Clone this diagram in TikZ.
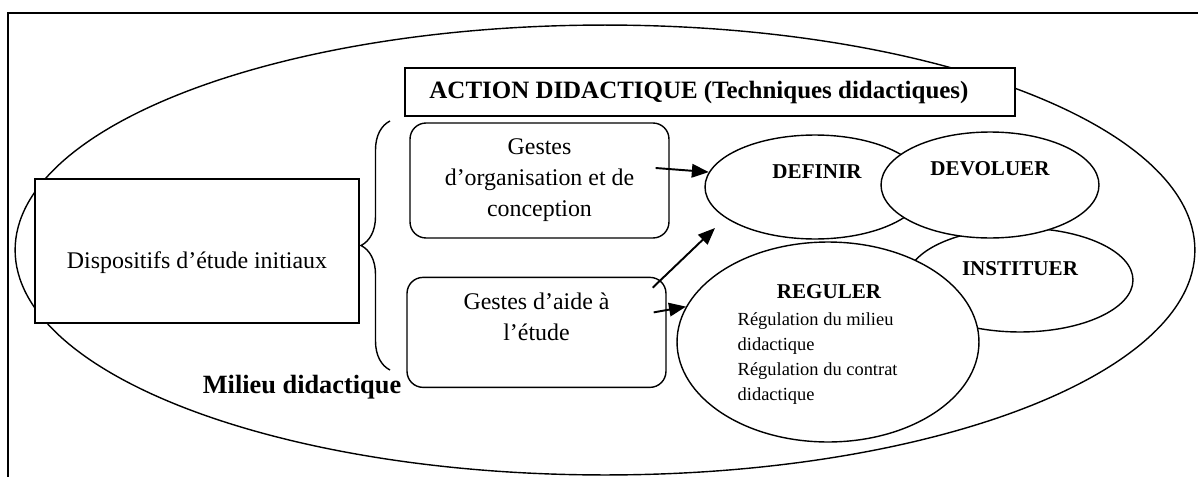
\documentclass[tikz,border=0pt]{standalone}
\usepackage{fontspec}
\setmainfont{Liberation Serif}
\usetikzlibrary{arrows.meta,positioning,shapes.geometric,decorations.pathreplacing}

\begin{document}
\begin{tikzpicture}[
  x=0.02cm, y=-0.02cm,
  line width=0.8pt,
  box/.style={rectangle, draw, fill=white, align=center},
  gbox/.style={box, rounded corners=0.32cm, minimum width=5.18cm, font={\fontsize{13.6}{17.6}\selectfont}},
  txt/.style={align=center, font={\fontsize{13.6}{17.6}\selectfont}},
  oval/.style={ellipse, draw, fill=white},
  ovaltxt/.style={font={\fontsize{12}{14}\selectfont\bfseries}},
  arrow/.style={-{Triangle[length=0.34cm, width=0.27cm]}, line width=1.1pt},
]
  \useasboundingbox (0,0) rectangle (1198,477);
  \draw (8,477) -- (8,13) -- (1198,13);
  \node[oval, minimum width=23.6cm, minimum height=9cm] (milieu) at (605,250) {};
  \node[font={\fontsize{15}{18}\selectfont\bfseries}] (milieutxt) at (302,387) {Milieu didactique};

  \node[box, minimum width=6.48cm, minimum height=2.88cm] (disp) at (197,251) {};
  \node[txt] (disptxt) at (197,263) {Dispositifs d’étude initiaux};
  \node[box, minimum width=12.2cm, minimum height=0.96cm] (action) at (710,92) {};
  \node[font={\fontsize{14.2}{17}\selectfont\bfseries}] (actiontxt) at (699,92) {ACTION DIDACTIQUE (Techniques didactiques)};

  \draw[decorate, decoration={brace, amplitude=0.58cm}] (390,370) -- (390,121);

  \node[gbox, minimum height=2.3cm] (gorg) at (539.5,180.5) {Gestes\\d’organisation et de\\conception};
  \node[gbox, minimum height=2.2cm, below=0.76cm of gorg, xshift=-0.06cm] (aide) {};
  \node[txt] (aidetxt) at (536.5,317) {Gestes d’aide à\\l’étude};

  \node[oval, minimum width=4.52cm, minimum height=2.08cm] (instituer) at (1020,280) {};
  \node[oval, minimum width=4.4cm, minimum height=2.08cm] (definir) at (815,187) {};
  \node[oval, minimum width=4.36cm, minimum height=2.12cm] (devoluer) at (990,185) {};
  \node[oval, minimum width=6.04cm, minimum height=4cm] (reguler) at (828,342) {};

  \node[ovaltxt] (definirtxt) at (817,172) {DEFINIR};
  \node[ovaltxt] (devoluertxt) at (990,169) {DEVOLUER};
  \node[ovaltxt] (instituertxt) at (1020,269) {INSTITUER};
  \node[ovaltxt] (regulertxt) at (829,292) {REGULER};
  \node[align=left, anchor=north west, inner sep=0pt, font={\fontsize{10.5}{14.2}\selectfont}] (regultxt) at (737,312) {Régulation du milieu\\didactique\\Régulation du contrat\\didactique};

  \coordinate (pointe) at (715,228);
  \draw[arrow] ([xshift=-0.28cm, yshift=0.25cm]gorg.east) -- (definir.172);
  \draw[arrow] ([xshift=-0.28cm, yshift=-0.22cm]aide.north east) -- (pointe);
  \draw[arrow] ([xshift=-0.26cm, yshift=0.4cm]aide.east) -- (reguler.166);
\end{tikzpicture}
\end{document}
